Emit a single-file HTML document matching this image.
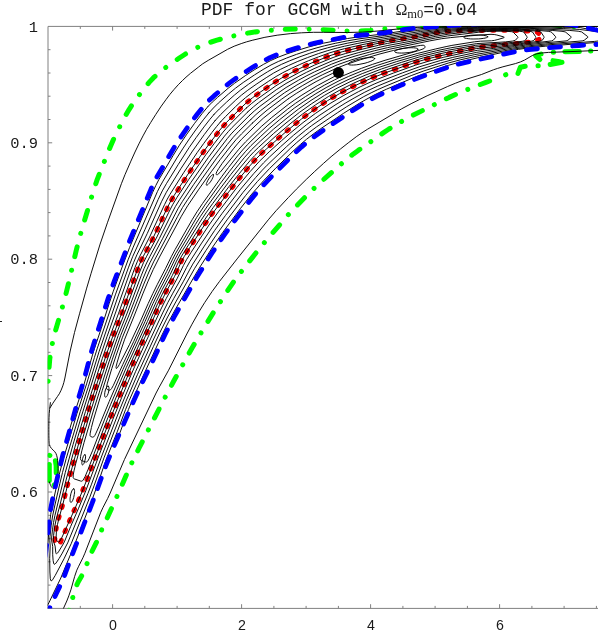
<!DOCTYPE html>
<html><head><meta charset="utf-8"><title>PDF for GCGM</title>
<style>
html,body{margin:0;padding:0;background:#fff;}
body{width:598px;height:636px;overflow:hidden;position:relative;font-family:"Liberation Sans",sans-serif;}
svg{position:absolute;left:0;top:0;display:block;}
.t{position:absolute;white-space:pre;color:#1a1a1a;line-height:1;will-change:transform;}
.yl{left:0;width:38px;text-align:right;font-size:15.4px;}
.xl{width:40px;text-align:center;top:617.6px;font-size:14.2px;}
.m{font-family:"Liberation Mono",monospace;}
.s{font-family:"Liberation Sans",sans-serif;}
.r{font-family:"Liberation Serif",serif;}
</style></head><body>
<svg width="598" height="636" viewBox="0 0 598 636">
<defs><clipPath id="cp"><rect x="47.6" y="26.0" width="552.4" height="582.6"/></clipPath></defs>
<g stroke="#808080" stroke-width="1" fill="none" shape-rendering="auto">
<path d="M48,609 V26.4 H598 M48,608.4 H598"/>
<path id="ticks" d="M80.3,608.4v-2.5M80.3,26.4v2.5M112.6,608.4v-4.2M112.6,26.4v4.2M144.8,608.4v-2.5M144.8,26.4v2.5M177.1,608.4v-2.5M177.1,26.4v2.5M209.3,608.4v-2.5M209.3,26.4v2.5M241.6,608.4v-4.2M241.6,26.4v4.2M273.9,608.4v-2.5M273.9,26.4v2.5M306.1,608.4v-2.5M306.1,26.4v2.5M338.4,608.4v-2.5M338.4,26.4v2.5M370.6,608.4v-4.2M370.6,26.4v4.2M402.9,608.4v-2.5M402.9,26.4v2.5M435.1,608.4v-2.5M435.1,26.4v2.5M467.4,608.4v-2.5M467.4,26.4v2.5M499.6,608.4v-4.2M499.6,26.4v4.2M531.9,608.4v-2.5M531.9,26.4v2.5M564.1,608.4v-2.5M564.1,26.4v2.5M596.4,608.4v-2.5M596.4,26.4v2.5M48,585.1h2.5M48,561.8h2.5M48,538.6h2.5M48,515.3h2.5M48,492.0h4.2M48,468.7h2.5M48,445.4h2.5M48,422.2h2.5M48,398.9h2.5M48,375.6h4.2M48,352.3h2.5M48,329.0h2.5M48,305.8h2.5M48,282.5h2.5M48,259.2h4.2M48,235.9h2.5M48,212.6h2.5M48,189.4h2.5M48,166.1h2.5M48,142.8h4.2M48,119.5h2.5M48,96.2h2.5M48,73.0h2.5M48,49.7h2.5"/>
</g>

<g clip-path="url(#cp)" fill="none" stroke-linecap="round" stroke-linejoin="round">
<g stroke="#00ff00" stroke-width="5" stroke-dasharray="10 13.65 0.01 13.65">
<path d="M47.5,392.0L49.1,367.0L49.8,358.6L51.2,349.2L53.2,339.4L55.9,329.2L62.1,308.1L65.4,296.0L68.4,283.9L76.5,249.3L80.1,235.7L84.1,221.8L93.8,189.7L96.8,180.7L100.2,171.8L110.1,147.2L112.9,140.8L115.8,134.4L121.2,123.7L125.4,115.7L129.2,109.3L133.3,103.0L139.5,94.5L144.9,87.4L149.1,82.4L153.5,77.7L158.7,73.0L164.1,68.6L170.2,64.2L179.3,58.0L184.7,54.5L188.9,51.9L192.9,49.7L196.9,47.7L201.4,45.7L206.1,43.9L211.2,42.0L217.0,40.2L223.2,38.4L230.0,36.7L236.3,35.3L243.2,33.9L250.1,32.7L257.0,31.7L264.0,30.9L271.5,30.2L279.5,29.6L286.9,29.2L295.0,29.1L303.5,29.1L318.5,29.5L349.5,31.0L355.0,31.1L360.4,31.1L365.4,30.8L370.4,30.4L389.8,28.1L399.7,27.3L432.7,26.1L458.2,24.3L467.7,23.8L496.7,22.9L512.7,22.6L529.2,22.6L539.2,22.9L547.1,23.7L559.4,25.6L564.3,26.2L570.3,26.6L576.7,26.7L582.7,26.4L588.1,25.7L592.9,24.8L602.1,22.7" stroke-dasharray="10.00 13.95 0.01 13.95" stroke-dashoffset="13.08"/>
<path d="M498.5,77.7L485.3,82.6L475.5,86.3L464.8,90.6L456.1,94.3L449.2,97.4L440.2,101.7L409.8,116.9L399.7,122.5L389.0,129.0L383.2,132.9L371.8,141.0L358.2,150.4L353.4,153.9L348.7,157.6L337.6,167.0L318.9,183.7L313.1,189.2L307.4,194.8L296.9,205.5L288.7,214.3L266.2,240.4L258.2,250.1L242.4,270.1L233.7,281.7L226.1,292.9L214.9,310.1L203.1,329.3L191.9,348.2L173.5,381.5L164.1,399.2L139.0,448.2L132.8,460.7L128.8,469.4L118.2,493.7L107.5,517.3L102.0,529.0L96.7,541.7L90.7,554.0L88.9,558.5L85.7,567.4L84.3,570.9L82.3,574.8L78.3,581.7L76.9,584.7L75.6,587.8L74.6,591.0L68.1,614.0" stroke-dasharray="10.00 13.40 0.01 13.40" stroke-dashoffset="27.37"/>
<path d="M49.6,455.4l0.3,0.1" stroke-dasharray="none"/>
<path d="M55.4,460.8Q56.6,466 56.2,472.6" stroke-dasharray="none"/>
<path d="M49.3,464.5V480.5" stroke-dasharray="none"/>
<path d="M54.3,484.8l-0.2,0.2" stroke-dasharray="none"/>
<path d="M505.6,74.8l0.2,-0.1" stroke-dasharray="none"/>
<path d="M518,73.4L520.4,67.2L525.2,66.3" stroke-dasharray="none"/>
<path d="M538,65.7l0.2,0" stroke-dasharray="none"/>
<path d="M550.2,64.5L562,62.2" stroke-dasharray="none"/>
<path d="M553,60.6L559.5,61.6" stroke-dasharray="none"/>
<path d="M541,54L535.7,55.9L540,59.5" stroke-dasharray="none"/>
<path d="M553.3,52.3l0.2,0" stroke-dasharray="none"/>
<path d="M564.9,51.8L579.3,51.5" stroke-dasharray="none"/>
<path d="M590.6,51.1l0.2,0" stroke-dasharray="none"/>
</g>
<g stroke="#f00000" stroke-width="4.8" stroke-dasharray="1.8 9.5">
<path d="M57.3,545.5L54.7,541.2L55.7,531.9L56.6,526.0L58.1,520.2L62.7,504.9L67.2,486.4L72.1,467.5L80.3,437.6L87.4,413.6L90.9,402.2L95.5,387.8L105.1,358.4L112.5,337.1L122.1,312.4L135.6,274.7L138.7,266.3L140.7,261.7L142.6,257.6L150.7,242.7L154.1,236.0L168.2,206.1L170.5,201.7L173.0,197.4L187.4,175.2L203.0,152.5L209.5,143.7L218.6,131.7L222.7,126.7L226.8,122.3L241.2,107.7L245.2,104.0L249.4,100.4L254.5,96.4L261.0,91.7L272.1,84.0L278.8,79.7L285.8,75.8L294.6,71.1L302.7,67.1L310.4,63.6L325.1,57.5L331.1,55.2L337.3,53.2L345.0,51.0L360.5,47.2L376.6,43.5L385.5,41.7L392.4,40.5L412.1,37.4L437.7,32.6L443.1,31.8L448.6,31.3L457.6,30.9L471.1,30.6L502.6,30.4L517.6,30.7L536.1,31.6L544.2,37.2" stroke-dashoffset="5.62"/>
<path d="M544.2,37.2L534.3,41.4L513.9,43.7L492.5,45.7L483.5,46.7L476.1,47.8L469.2,49.0L462.8,50.3L455.5,52.0L428.8,58.5L417.7,61.5L406.3,65.3L389.3,71.2L379.4,74.9L371.1,78.2L363.3,81.6L355.2,85.5L346.6,89.7L339.6,93.4L333.5,96.9L327.9,100.3L322.1,104.1L314.7,109.2L307.7,114.2L302.1,118.4L295.9,123.4L287.1,130.8L278.3,138.3L265.3,149.9L260.5,154.3L256.3,158.6L252.5,162.6L248.6,167.1L236.2,182.2L228.2,192.4L212.5,213.2L205.1,223.9L187.6,250.7L184.1,256.2L181.4,261.0L179.7,264.5L176.1,272.7L174.2,276.8L165.8,292.1L159.1,305.5L152.2,321.1L145.7,335.1L130.9,368.0L120.4,393.4L109.3,420.8L95.2,457.7L86.7,480.1L81.9,492.2L74.8,508.8L67.3,525.7L60.1,543.3L57.3,545.5" stroke-dashoffset="5.86"/>
</g>
<g stroke="#000" stroke-width="0.95">
<path d="M207.8,106.7L212.3,102.1L217.5,97.4L228.1,88.3L234.5,83.3L245.3,75.7L254.2,69.9L263.6,64.3L270.8,60.5L278.2,57.2L286.9,53.9L296.8,50.6L308.9,46.9L316.7,44.8L323.3,43.2L347.5,38.5L359.4,36.8L385.0,33.8L406.6,30.4L415.8,29.2L441.7,26.8L452.1,26.2L460.5,26.0L495.6,26.6L550.1,27.1L580.2,27.6L592.5,30.0L601.3,31.3L611.2,33.4L619.8,34.3L620.7,34.7L622.7,36.1L623.4,36.7L623.6,37.1L623.2,37.7L619.4,40.5L618.4,40.8L616.0,41.2L576.2,43.9L545.3,46.2L530.4,47.7L518.5,49.3L508.7,51.1L477.1,57.9L459.3,62.2L448.8,65.2L423.6,73.9L412.8,78.0L386.7,89.1L378.9,92.7L372.3,96.0L359.6,103.1L343.6,113.3L320.9,128.6L313.2,134.1L306.4,139.4L300.5,144.4L294.7,149.6L275.7,168.2L263.6,180.7L251.7,194.2L240.3,208.7L222.7,232.5L212.7,247.0L200.6,266.0L194.7,275.8L176.1,308.1L168.6,321.8L162.0,335.0L141.8,378.9L132.6,399.6L128.4,409.6L120.6,431.0L115.4,443.9"/>
<path d="M69.3,430.3L75.8,409.1L83.8,385.1L93.7,350.8L101.2,328.6L109.2,303.4L113.1,291.8L123.1,264.4L129.5,247.7L152.6,192.4L155.8,185.5L158.8,179.7L173.3,155.2L179.4,145.2L186.8,134.2L194.6,123.3L202.0,113.7L207.8,106.7"/>
<path d="M208.9,112.9L213.4,108.0L218.3,103.1L228.6,93.9L235.6,88.1L243.2,82.5L254.4,75.0L263.1,69.5L271.0,65.0L278.3,61.5L286.7,58.0L296.4,54.4L308.2,50.4L316.9,47.8L324.5,45.8L335.3,43.3L347.2,40.9L359.0,38.9L384.3,35.5L406.9,31.9L417.2,30.5L441.9,27.8L451.2,27.2L460.6,26.8L531.1,27.6L563.2,28.6L579.2,29.4L596.8,31.6L599.0,32.0L600.1,32.6L605.2,36.5L605.6,36.9L605.6,37.3L601.7,40.3L600.0,40.8L594.7,41.4L547.3,44.9L528.4,46.9L513.2,49.1L479.7,55.5L460.9,59.7L448.8,62.9L423.9,70.9L411.2,75.6L386.0,86.0L377.8,89.6L371.2,92.8L363.8,96.6L355.1,101.7L346.7,106.7L337.8,112.5L316.7,126.8L309.7,132.0L302.4,137.8L296.8,142.5L290.3,148.4L269.7,168.4L257.5,181.4L251.0,189.0L245.7,195.4L227.6,219.1L215.7,235.8L205.9,250.6L194.7,268.3L175.8,301.9L167.1,318.0L160.1,332.1L153.4,346.5L139.5,377.0L129.2,400.5L125.5,409.7L117.2,431.9L106.9,457.7L103.2,468.0L97.1,486.0L93.0,497.2L74.3,545.4L60.8,578.0L48.9,602.8L47.4,605.3L46.7,606.0L46.2,606.1L45.7,605.5L45.2,603.9L44.6,596.9L44.6,588.0L45.2,573.9L46.4,558.1L49.7,522.7L50.7,514.4L52.3,505.3L59.2,474.6L63.6,458.1L76.9,413.7L86.6,383.9L94.4,357.6L97.1,348.9L115.3,294.9L128.1,259.8L133.2,247.2L157.4,191.6L159.8,186.8L163.0,181.1L176.8,158.1L183.2,148.1L189.4,138.8L196.3,129.1L203.8,119.2L208.9,112.9Z"/>
<path d="M214.2,114.2L219.3,109.0L226.7,102.0L234.3,95.2L240.4,90.2L248.6,84.2L258.9,77.2L267.5,71.8L274.2,68.0L281.4,64.4L289.7,60.8L299.1,57.1L309.7,53.3L319.2,50.2L327.7,47.8L337.3,45.4L347.8,43.1L363.9,40.2L420.6,31.5L443.1,28.7L451.4,28.1L460.7,27.7L477.2,27.6L521.7,28.1L539.1,28.7L569.2,30.4L578.2,31.2L581.6,31.9L587.6,36.5L587.9,36.9L587.9,37.3L584.2,40.3L582.2,40.9L545.3,44.0L525.4,46.2L512.5,48.1L474.8,54.6L454.9,59.1L440.9,62.9L418.7,69.8L409.8,73.1L397.4,77.9L377.8,86.0L370.9,89.2L364.2,92.5L354.9,97.6L345.9,102.8L337.5,108.0L328.5,113.9L311.7,125.6L305.3,130.5L298.4,136.1L286.5,146.7L267.1,165.2L261.7,170.8L255.7,177.5L243.1,192.3L225.5,215.4L214.7,230.4L204.3,246.1L192.8,264.1L190.0,269.1L183.2,281.8L173.7,298.6L168.2,308.9L159.1,327.4L152.8,340.9L137.6,374.2L125.9,401.4L104.0,457.8L94.3,485.1L89.8,497.2L71.2,543.7L64.0,558.8L55.2,575.5L52.5,579.9L51.8,580.7L51.1,580.9L50.7,580.1L50.3,578.6L49.9,572.0L49.7,558.3L50.2,546.0L49.8,540.7L50.0,536.6L51.2,525.2L52.6,516.0L54.7,506.0L59.9,483.3L62.5,472.5L66.2,458.6L80.2,411.7L88.3,386.7L99.0,351.8L118.1,296.1L128.3,267.9L132.8,256.3L144.9,229.7L158.1,199.6L162.3,190.9L166.4,183.7L178.3,164.4L189.3,147.3L196.2,137.5L204.0,126.9L209.5,119.8L214.2,114.2Z"/>
<path d="M215.3,120.4L220.4,114.8L226.0,109.3L235.7,100.1L241.6,95.0L247.8,90.2L256.9,83.8L266.2,77.7L273.7,73.0L280.6,69.3L288.6,65.5L297.8,61.4L307.5,57.6L318.4,53.6L327.8,50.6L335.1,48.5L344.6,46.2L357.2,43.5L377.0,39.9L426.9,32.0L443.3,29.7L459.8,28.5L481.4,28.3L517.0,28.6L534.5,29.3L552.8,30.5L562.0,31.3L565.2,31.9L566.1,32.5L570.8,36.5L571.2,36.9L571.3,37.3L567.9,40.3L566.1,40.9L544.2,42.9L525.3,45.1L514.5,46.6L493.9,49.8L476.8,52.3L452.8,57.4L440.5,60.5L419.1,66.9L402.6,72.8L381.9,80.8L374.1,84.1L366.4,87.7L358.6,91.6L349.9,96.3L342.5,100.5L335.0,105.1L319.1,115.6L306.7,124.6L293.7,135.1L280.6,146.7L269.4,157.1L263.6,162.8L253.8,173.5L240.6,189.2L222.2,213.3L212.3,227.1L201.1,243.9L189.9,261.5L186.6,267.4L180.1,280.3L172.5,293.8L167.9,302.4L162.7,312.9L150.5,338.9L135.7,371.3L125.7,395.0L119.7,409.7L102.1,455.1L91.5,484.2L87.9,493.5L67.7,542.9L62.3,553.1L59.1,558.5L56.0,563.1L55.0,564.1L54.4,564.3L54.0,564.1L53.6,563.1L53.1,560.3L52.7,554.8L52.7,546.6L51.6,540.1L51.7,537.0L52.5,529.8L53.5,522.7L54.9,515.6L65.3,472.4L73.1,444.3L81.4,416.3L99.9,357.5L107.1,336.4L129.6,273.1L133.6,262.5L136.9,254.8L147.3,233.4L161.5,201.7L166.4,192.2L170.2,185.9L180.8,168.8L192.5,151.1L204.4,134.4L210.7,126.1L215.3,120.4Z"/>
<path d="M220.5,121.9L225.5,116.6L235.6,106.6L240.5,102.0L245.5,97.7L251.5,93.1L258.7,87.9L268.7,81.2L276.1,76.5L282.8,72.7L291.6,68.3L299.8,64.5L308.6,60.7L318.7,56.8L328.9,53.1L336.1,50.9L344.4,48.7L362.0,44.7L388.7,39.5L410.0,36.2L439.4,31.3L447.5,30.3L458.8,29.5L477.3,29.0L504.9,28.9L522.0,29.4L538.1,30.4L548.2,31.3L550.7,31.8L551.9,32.5L555.6,36.7L555.8,37.3L553.2,40.3L551.6,40.9L523.3,44.3L493.8,48.4L477.3,50.3L461.0,53.5L443.9,57.2L426.9,61.7L415.7,65.1L393.3,73.1L375.7,79.9L368.0,83.2L360.1,86.9L350.9,91.6L343.1,95.8L330.1,103.5L315.6,113.3L303.0,122.6L289.6,133.6L281.4,140.8L269.2,151.8L259.4,161.3L250.1,171.6L236.9,187.5L218.4,211.8L209.0,225.0L191.1,252.3L186.5,259.7L183.3,265.7L177.0,278.8L166.2,298.5L161.0,309.0L149.4,334.1L134.6,366.7L130.7,375.7L121.6,397.7L112.7,419.8L98.4,457.0L85.8,490.7L78.6,508.2L70.7,526.4L64.7,541.1L63.3,543.9L58.5,551.8L57.3,553.3L56.8,553.7L56.4,553.8L56.1,553.5L55.8,552.7L55.1,546.1L53.7,541.9L53.4,539.8L53.6,535.3L54.6,527.2L56.2,519.2L60.1,504.5L66.1,480.0L71.2,460.6L77.1,439.3L85.5,411.4L102.3,358.5L109.9,336.5L118.4,313.8L134.9,267.6L137.2,261.9L139.8,256.2L149.6,237.0L164.5,204.7L167.3,199.1L169.9,194.5L183.9,172.3L197.3,152.4L203.6,143.6L212.0,132.4L216.7,126.4L220.5,121.9Z"/>
<path d="M241.8,107.1L246.7,102.5L252.6,97.7L259.6,92.6L271.2,84.6L281.3,78.2L295.5,70.6L303.3,66.8L311.1,63.2L331.0,55.3L336.1,53.6L342.8,51.6L359.4,47.5L375.9,43.8L386.1,41.7L412.4,37.4L437.5,32.8L448.0,31.3L462.0,30.2L480.5,29.6L504.9,29.5L519.2,29.9L535.1,31.0L539.1,31.4L540.9,32.0L543.9,36.6L544.1,37.2L544.0,37.6L542.2,40.4L541.5,40.8L539.7,41.2L505.5,45.6L476.2,48.6L440.4,55.7L425.1,59.5L414.1,62.8L387.8,71.9L371.1,78.3L354.6,85.8L339.6,93.6L327.5,100.7L314.5,109.5L301.6,118.9L286.6,131.2L266.2,149.2L261.0,154.0L256.4,158.6L248.9,166.9L236.2,182.2L227.3,193.8L212.4,213.6L204.7,224.6L187.9,250.6L184.3,256.4L181.4,261.5L174.5,276.5L165.6,292.8L159.5,305.1L131.2,367.5L120.3,393.9L109.8,419.9L86.6,480.4L80.8,494.9L74.2,510.3L61.6,538.1L59.8,541.2L59.0,542.0L58.2,542.0L57.5,541.5L56.6,540.2L56.2,539.1L56.1,538.0L56.4,531.5L57.5,524.4L58.8,518.9L62.6,505.3L67.2,486.7L72.2,467.3L80.4,437.3L90.8,402.6L105.7,356.5L112.7,336.5L121.8,313.0L135.9,273.7L139.6,264.1L143.1,256.7L153.6,236.8L166.0,210.5L169.7,203.0L173.9,195.8L184.1,180.0L191.6,168.8L202.3,153.3L209.5,143.5L218.9,131.2L223.0,126.3L226.6,122.3L241.8,107.1Z"/>
<path d="M246.6,107.8L251.7,103.4L256.8,99.4L275.9,85.8L286.0,79.6L301.0,71.5L314.5,65.1L333.1,57.5L339.1,55.4L345.6,53.5L362.9,49.0L378.5,45.3L387.6,43.4L412.8,39.1L438.8,34.1L450.9,32.3L465.2,30.9L481.5,30.2L500.9,30.0L518.0,30.5L528.0,31.2L530.9,31.5L532.6,32.1L535.6,36.7L535.8,37.3L535.7,37.7L533.8,40.5L531.9,41.1L505.5,44.3L476.0,46.9L446.5,52.4L439.3,53.9L423.7,57.8L411.8,61.3L386.7,69.7L377.5,73.0L369.4,76.2L353.6,83.2L340.0,90.0L328.3,96.6L315.6,104.8L302.7,113.9L290.9,123.2L276.6,135.3L259.3,151.0L254.6,155.7L250.2,160.5L238.6,174.4L229.1,186.4L213.4,207.3L207.2,216.0L202.4,223.2L185.2,250.2L181.1,256.9L178.4,262.1L172.3,275.5L163.9,291.0L157.8,303.3L149.7,321.4L128.3,368.5L117.1,395.0L108.1,417.2L88.1,469.4L85.0,476.8L83.1,480.1L82.5,480.8L81.7,481.2L80.5,481.0L74.3,478.9L73.6,478.4L73.2,477.6L73.2,475.0L74.0,470.8L75.8,463.4L83.0,437.1L90.4,412.0L97.3,390.0L106.7,361.2L114.6,338.4L124.5,313.1L139.2,273.0L143.5,262.6L146.7,256.2L156.3,238.2L168.8,212.2L172.6,204.8L176.8,197.7L188.7,179.5L205.8,154.8L214.0,143.8L222.4,132.9L225.8,128.9L230.1,124.2L241.4,112.8L246.6,107.8Z"/>
<path d="M247.9,111.8L253.4,106.9L258.3,102.9L276.2,89.8L286.0,83.5L298.9,76.3L306.4,72.4L314.0,68.7L332.3,60.8L343.2,57.0L358.2,52.7L376.1,48.1L387.1,45.6L413.2,40.8L435.1,36.4L448.1,34.2L468.4,31.8L479.6,31.0L492.8,30.6L504.9,30.6L519.9,31.3L522.6,31.7L523.9,32.2L526.9,36.6L527.2,37.2L527.1,37.6L525.2,40.4L524.4,40.8L522.3,41.3L505.4,43.1L480.7,44.8L475.8,45.3L447.7,50.3L438.0,52.3L419.8,56.8L401.4,62.4L381.4,69.0L365.0,75.3L350.0,81.8L337.1,88.2L324.6,95.3L311.8,103.6L299.4,112.4L286.0,123.0L273.7,133.4L258.4,147.5L253.6,152.1L249.7,156.3L239.9,168.0L228.5,182.4L212.8,203.4L206.0,212.9L200.6,221.0L179.7,255.0L176.5,261.1L170.2,274.5L162.4,289.2L156.3,301.6L147.4,321.5L126.4,367.3L110.7,404.3L104.7,419.1L92.5,450.8L89.2,458.5L87.7,461.2L87.1,461.8L86.6,462.0L85.4,461.9L81.4,460.5L80.9,460.2L80.5,459.4L80.4,458.3L80.6,456.4L81.8,450.9L84.0,442.7L93.6,410.0L108.6,363.0L118.2,335.5L126.8,314.0L141.4,275.2L144.1,268.5L146.6,263.0L149.8,256.6L159.3,238.6L171.6,213.8L175.4,206.5L179.7,199.5L191.0,182.3L208.2,157.7L215.5,147.8L224.5,136.1L228.5,131.4L232.1,127.5L247.9,111.8Z"/>
<path d="M249.3,115.6L254.2,111.1L259.8,106.4L275.8,94.6L286.1,87.5L298.7,80.1L307.0,75.6L314.4,71.9L331.5,64.2L342.2,60.1L356.0,55.8L374.3,50.8L387.7,47.6L435.4,38.0L447.4,36.0L478.9,32.2L486.7,31.5L494.8,31.2L504.9,31.2L511.7,31.7L513.0,32.1L513.5,32.5L517.6,36.6L517.9,37.2L517.8,37.6L515.2,40.4L512.4,41.1L505.4,41.9L476.7,43.6L450.3,47.9L436.7,50.7L418.5,55.2L396.6,61.6L377.9,67.7L362.3,73.6L348.0,79.7L335.8,85.6L324.0,92.2L311.0,100.4L298.3,109.2L287.0,118.0L273.7,129.0L260.2,141.3L251.3,149.9L244.2,157.8L230.9,174.4L219.7,189.2L207.6,205.9L200.5,216.3L195.3,224.6L178.2,253.2L175.0,259.2L168.2,273.5L159.5,290.1L153.0,303.4L145.0,321.6L122.9,369.6L109.1,401.7L99.0,426.3L96.0,433.1L94.8,435.5L93.7,436.9L92.7,437.2L90.8,436.6L90.3,436.2L90.0,435.3L90.2,433.2L91.4,427.6L93.4,419.9L102.2,390.7L112.4,359.1L120.7,335.4L129.0,315.0L143.2,278.2L146.7,269.8L150.1,262.4L162.8,238.2L178.0,208.7L182.5,201.3L193.8,184.3L210.9,160.0L227.2,138.7L231.2,133.9L234.8,130.1L249.3,115.6Z"/>
<path d="M250.9,119.4L255.9,114.6L260.6,110.6L271.9,101.9L284.6,92.7L296.9,85.0L310.4,77.4L323.3,71.0L337.4,64.8L351.0,60.0L369.6,54.5L389.2,49.3L429.7,40.9L441.7,38.7L450.7,37.6L459.9,36.7L479.9,35.0L491.0,34.3L494.2,34.5L496.8,35.0L503.4,36.8L504.2,37.2L504.2,37.4L503.3,37.9L497.9,39.5L494.4,40.4L491.4,40.8L480.4,41.2L474.5,41.8L451.9,45.4L446.1,46.6L435.4,49.0L417.2,53.5L394.2,60.0L377.2,65.4L361.5,71.1L348.8,76.3L339.0,80.8L326.9,87.2L316.0,93.6L303.8,101.5L294.2,108.2L279.7,119.6L269.3,128.4L260.8,136.3L251.0,145.6L245.7,151.3L240.0,158.0L229.1,171.8L219.7,184.3L204.8,205.1L196.7,217.4L175.3,253.9L172.6,259.1L166.6,271.6L157.5,289.2L151.5,301.7L142.7,321.7L133.6,341.7L122.9,364.3L113.4,385.3L111.6,388.5L110.5,389.8L109.9,390.2L109.2,390.2L107.4,389.6L106.7,388.9L106.5,387.7L106.7,386.1L107.4,383.2L111.8,368.5L116.2,355.2L122.5,337.2L131.3,315.9L143.8,284.1L148.9,272.0L153.6,261.9L177.7,216.3L182.6,207.4L187.6,199.7L201.9,178.8L216.7,158.1L227.4,144.4L233.3,137.2L238.9,131.2L250.9,119.4Z"/>
<path d="M252.3,123.2L260.0,116.1L267.0,110.2L281.7,99.1L290.0,93.3L302.2,85.8L313.7,79.2L322.8,74.6L335.7,68.6L346.0,64.5L360.6,59.7L379.0,54.2L393.7,50.4L410.7,47.0L420.7,45.4L423.2,45.2L424.4,45.6L425.0,46.7L424.8,47.7L424.3,48.3L423.1,48.9L418.8,50.5L385.0,60.3L372.7,64.3L361.5,68.3L352.3,71.9L342.3,76.1L334.3,80.0L324.7,85.0L315.6,90.3L305.3,96.7L295.5,103.3L287.7,109.1L275.4,118.9L267.9,125.2L257.8,134.5L247.3,144.8L242.7,149.9L237.6,155.9L228.5,167.5L222.0,176.2L202.5,203.6L197.0,211.8L192.4,219.3L175.2,249.4L171.5,256.3L165.4,268.8L157.2,284.7L152.8,293.6L148.2,303.5L141.0,319.9L129.6,344.3L119.3,364.6L117.4,367.7L116.7,368.4L116.3,368.5L116.1,368.0L116.1,366.6L117.2,362.2L120.3,352.0L124.7,339.2L134.1,316.0L142.8,293.9L148.1,281.1L153.2,269.6L159.5,257.0L181.4,216.2L187.6,205.8L198.4,189.9L211.2,171.8L220.2,159.6L230.8,146.0L236.0,139.7L241.6,133.8L252.3,123.2Z"/>
<path d="M288.4,98.7L296.2,93.5L307.4,86.6L316.1,81.6L324.2,77.4L332.4,73.5L337.8,71.4L339.8,71.0L340.6,71.1L341.0,71.4L341.1,71.7L340.7,72.5L339.6,73.5L336.9,75.1L317.2,85.7L301.9,95.1L294.5,100.0L288.8,104.0L271.7,117.5L261.2,126.6L245.6,141.8L238.9,149.2L220.1,172.3L217.6,174.6L216.9,174.8L216.4,174.6L216.1,174.2L216.1,173.6L216.9,171.5L218.7,168.6L222.2,163.4L233.4,148.8L237.5,143.8L241.5,139.3L255.1,125.9L263.2,118.3L273.4,110.1L288.4,98.7Z"/>
<path d="M50.0,407.9L52.9,403.2L57.4,396.6L59.3,393.8L61.1,390.2L62.8,385.9L63.9,382.3L64.9,378.0L70.2,351.0L74.5,332.5L79.7,313.2L86.7,288.1L91.1,273.3L100.1,244.1L107.4,222.8L121.4,183.7L125.1,174.4L130.9,161.1L135.0,152.0L138.9,143.9L143.0,135.9L146.6,129.3L150.7,122.5L155.8,114.4L161.3,106.1L166.0,99.6L169.9,94.4L174.0,89.5L178.3,84.7L182.5,80.5L186.0,77.2L190.4,73.4L198.3,67.2L202.7,63.8L208.2,60.4L227.6,49.3L234.2,46.2L241.2,43.6L246.4,41.9L252.2,40.3L264.9,37.3L277.2,35.2L290.6,33.6L301.5,32.8L313.5,32.3L323.5,32.3L347.5,32.5L362.5,32.1L377.0,31.1L407.9,28.0L417.9,27.4L427.9,27.0L483.4,26.5L598.0,26.5"/>
<path d="M598.0,50.4L576.0,51.4L548.5,52.4L541.6,53.0L536.9,53.8L534.7,54.5L532.2,55.6L524.7,60.0L520.5,61.9L515.4,63.6L502.9,66.8L497.6,68.4L493.4,69.8L481.5,74.5L467.7,78.8L462.0,80.7L455.5,83.2L447.6,86.5L427.1,95.8L411.9,103.3L401.7,108.8L367.4,129.3L361.9,132.8L356.2,136.8L348.2,142.9L340.7,148.8L331.1,156.7L323.6,163.3L314.3,171.8L306.7,179.0L296.4,189.2L288.4,197.5L276.1,210.7L268.3,219.8L237.1,258.9L219.5,281.4L212.1,291.5L204.6,302.7L199.1,311.6L192.0,324.2L186.8,334.0L168.6,370.2L158.9,387.7L156.1,393.0L124.5,459.4L110.2,493.0L107.7,498.4L102.9,507.7L100.8,512.2L84.9,553.2L82.9,557.8L78.7,566.2L76.8,570.2L74.7,576.3L70.9,589.8L68.8,595.9L66.8,601.0L60.0,616.0"/>
<path d="M85,454.7C85.2,454.7 85.3,454.9 85.4,455.3C85.5,455.7 85.6,456.2 85.6,456.9C85.5,457.5 85.4,458.2 85.3,459C85.2,459.7 85,460.6 84.7,461.3C84.5,462 84.2,462.7 84,463.3C83.7,463.8 83.4,464.3 83.1,464.6C82.9,464.9 82.6,465 82.4,464.9C82.2,464.9 82.1,464.7 82,464.3C81.9,463.9 81.8,463.4 81.8,462.7C81.9,462.1 82,461.4 82.1,460.6C82.2,459.9 82.4,459 82.7,458.3C82.9,457.6 83.2,456.9 83.4,456.3C83.7,455.8 84,455.3 84.3,455C84.5,454.7 84.8,454.6 85,454.7Z"/>
<path d="M73.8,488.8C74,488.8 74.2,489.1 74.4,489.6C74.5,490.1 74.6,490.8 74.6,491.6C74.6,492.4 74.5,493.5 74.3,494.4C74.2,495.4 74,496.5 73.7,497.5C73.4,498.4 73.1,499.4 72.8,500.2C72.4,500.9 72.1,501.6 71.8,501.9C71.4,502.3 71.1,502.5 70.8,502.4C70.6,502.4 70.4,502.1 70.2,501.6C70.1,501.1 70,500.4 70,499.6C70,498.8 70.1,497.7 70.3,496.8C70.4,495.8 70.6,494.7 70.9,493.7C71.2,492.8 71.5,491.8 71.8,491C72.2,490.3 72.5,489.6 72.8,489.3C73.2,488.9 73.5,488.7 73.8,488.8Z"/>
<path d="M108.2,386.2C108.4,386.2 108.7,386.5 108.8,386.9C108.9,387.3 109,387.9 109,388.6C109,389.3 108.9,390.1 108.8,390.9C108.7,391.7 108.4,392.6 108.2,393.4C107.9,394.1 107.6,394.9 107.3,395.5C107,396.1 106.6,396.6 106.3,396.9C106,397.2 105.7,397.3 105.4,397.2C105.2,397.2 104.9,396.9 104.8,396.5C104.7,396.1 104.6,395.5 104.6,394.8C104.6,394.1 104.7,393.3 104.8,392.5C104.9,391.7 105.2,390.8 105.4,390C105.7,389.3 106,388.5 106.3,387.9C106.6,387.3 107,386.8 107.3,386.5C107.6,386.2 107.9,386.1 108.2,386.2Z"/>
<path d="M213.3,174.6C213.5,174.7 213.6,175.1 213.5,175.5C213.5,175.9 213.3,176.6 213,177.2C212.7,177.9 212.3,178.7 211.9,179.5C211.4,180.3 210.9,181.2 210.4,181.9C209.8,182.6 209.2,183.3 208.7,183.8C208.2,184.4 207.7,184.8 207.4,185C207,185.2 206.7,185.3 206.5,185.2C206.3,185.1 206.2,184.7 206.3,184.3C206.3,183.9 206.5,183.2 206.8,182.6C207.1,181.9 207.5,181.1 207.9,180.3C208.4,179.5 208.9,178.6 209.4,177.9C210,177.2 210.6,176.5 211.1,176C211.6,175.4 212.1,175 212.4,174.8C212.8,174.6 213.1,174.5 213.3,174.6Z"/>
<path d="M374.7,58.5C374.8,58.9 374.4,59.4 373.6,59.9C372.9,60.4 371.6,61 370.2,61.5C368.7,62.1 366.8,62.7 365,63.2C363.1,63.6 361,64.1 359.1,64.4C357.2,64.7 355.2,65 353.7,65C352.1,65.1 350.7,65.1 349.8,64.9C348.9,64.8 348.4,64.5 348.3,64.1C348.2,63.7 348.6,63.2 349.4,62.7C350.1,62.2 351.4,61.6 352.8,61.1C354.3,60.5 356.2,59.9 358,59.4C359.9,59 362,58.5 363.9,58.2C365.8,57.9 367.8,57.6 369.3,57.6C370.9,57.5 372.3,57.5 373.2,57.7C374.1,57.8 374.6,58.1 374.7,58.5Z"/>
<path d="M417.9,49.2C418,49.5 417.6,49.9 416.9,50.3C416.2,50.7 415,51.2 413.8,51.5C412.5,51.9 410.8,52.2 409.1,52.5C407.5,52.7 405.6,52.9 404,53C402.3,53.1 400.6,53.1 399.2,53C397.9,53 396.7,52.8 395.9,52.5C395.2,52.3 394.7,52 394.7,51.6C394.6,51.3 395,50.9 395.7,50.5C396.4,50.1 397.6,49.6 398.8,49.3C400.1,48.9 401.8,48.6 403.5,48.3C405.1,48.1 407,47.9 408.6,47.8C410.3,47.7 412,47.7 413.4,47.8C414.7,47.8 415.9,48 416.7,48.3C417.4,48.5 417.9,48.8 417.9,49.2Z"/>
<path d="M487.7,36.8C487.7,37.1 487.3,37.4 486.5,37.7C485.8,38 484.6,38.2 483.2,38.4C481.9,38.6 480.1,38.8 478.4,38.9C476.7,39 474.8,39 473.1,39C471.4,39 469.6,38.9 468.2,38.7C466.9,38.5 465.7,38.3 464.9,38.1C464.1,37.8 463.7,37.5 463.7,37.2C463.7,36.9 464.1,36.6 464.9,36.3C465.6,36 466.8,35.8 468.2,35.6C469.5,35.4 471.3,35.2 473,35.1C474.7,35 476.6,35 478.3,35C480,35 481.8,35.1 483.2,35.3C484.5,35.5 485.7,35.7 486.5,35.9C487.3,36.2 487.7,36.5 487.7,36.8Z"/>
<path d="M50.4,402.6C49.9,407.6 49.2,411.4 49,417.7C48.8,424 48.8,435.5 49,440.4C49.2,445.3 49.2,444.8 50.4,447C51.6,449.2 54.8,450.9 56,453.6C57.2,456.3 57.6,459.6 57.9,463C58.2,466.4 58.2,471.2 57.9,474.3C57.6,477.4 56.6,479.5 56,481.9C55.4,484.3 55,487.7 54.2,488.5C53.4,489.3 52.1,487.7 51.3,486.6C50.5,485.5 50,483.5 49.4,481.9"/>
</g>
<g stroke="#0000ff" stroke-width="4.8" stroke-dasharray="11.2 12.7">
<path d="M41.0,600.0L43.3,573.6L44.6,561.7L47.5,537.8L49.6,516.5L50.2,511.5L51.2,506.1L54.0,492.4L59.4,469.0L62.6,455.9L71.7,423.1L77.2,402.8L84.1,379.3L91.0,353.2L93.7,344.1L108.2,298.3L114.4,280.9L129.7,240.7L150.7,189.8L152.6,185.3L154.6,181.3L157.2,176.5L163.2,166.3L172.2,150.7L176.9,143.0L182.2,135.1L189.6,124.4L197.4,114.0L203.7,106.3L209.0,100.5L214.0,95.9L224.3,87.1L229.3,83.2L234.0,79.7L245.9,71.6L253.4,66.8L262.4,61.6L269.9,57.7L277.3,54.6L285.7,51.6L295.7,48.4L308.2,44.8L315.0,43.1L320.8,41.8L345.4,37.2L351.3,36.3L357.7,35.5L384.6,32.8L391.0,31.8L406.8,29.2L417.7,27.9L465.6,24.3L476.6,23.8L491.6,23.5L514.1,23.2L541.6,23.2L555.1,23.5L565.6,24.1L571.5,24.7L577.4,25.7L594.8,29.7L612.0,33.2" stroke-dasharray="11.00 12.33" stroke-dashoffset="2.37"/>
<path d="M612.0,43.5L579.0,45.5L544.1,48.1L528.7,49.6L522.8,50.4L516.8,51.4L509.5,52.8L494.4,56.2L475.8,60.1L462.6,63.1L455.8,64.8L451.0,66.2L445.8,67.9L418.6,77.7L410.8,80.9L400.7,85.3L385.1,92.3L376.6,96.3L370.8,99.4L365.2,102.6L358.0,107.1L350.4,111.9L322.2,131.0L314.1,136.8L307.0,142.3L301.7,146.8L296.1,151.9L275.9,172.0L268.6,179.6L261.8,186.9L256.2,193.2L251.0,199.4L244.6,207.6L234.0,221.6L226.3,232.1L220.0,241.1L211.9,253.2L201.0,270.5L196.3,278.1L179.6,307.2L174.0,317.2L169.3,326.1L164.8,335.0L154.7,356.8L142.1,382.9L135.7,396.5L130.2,408.8L110.3,454.7L105.4,466.8L92.2,503.0L72.2,554.7L64.4,575.8L61.5,582.7L55.3,595.8L45.0,618.0" stroke-dasharray="11.00 12.21" stroke-dashoffset="18.02"/>
</g>
</g>
<circle cx="338.4" cy="72.6" r="5.5" fill="#000"/>
</svg>
<div class="t m" id="title" style="left:200.5px;top:0.5px;font-size:18px;">PDF for GCGM with <span class="r" style="font-size:16px;">&#937;</span><span class="r" style="font-size:12.5px;position:relative;top:3px;">m0</span>=0.04</div>
<div class="t m yl" style="top:20.5px;">1</div>
<div class="t m yl" style="top:136.9px;">0.9</div>
<div class="t m yl" style="top:253.3px;">0.8</div>
<div class="t m yl" style="top:369.7px;">0.7</div>
<div class="t m yl" style="top:486.1px;">0.6</div>
<div class="t s xl" style="left:92.6px;">0</div>
<div class="t s xl" style="left:221.6px;">2</div>
<div class="t s xl" style="left:350.6px;">4</div>
<div class="t s xl" style="left:479.6px;">6</div>
<div style="position:absolute;left:0;top:320.6px;width:2px;height:1.6px;background:#222;"></div>
</body></html>
